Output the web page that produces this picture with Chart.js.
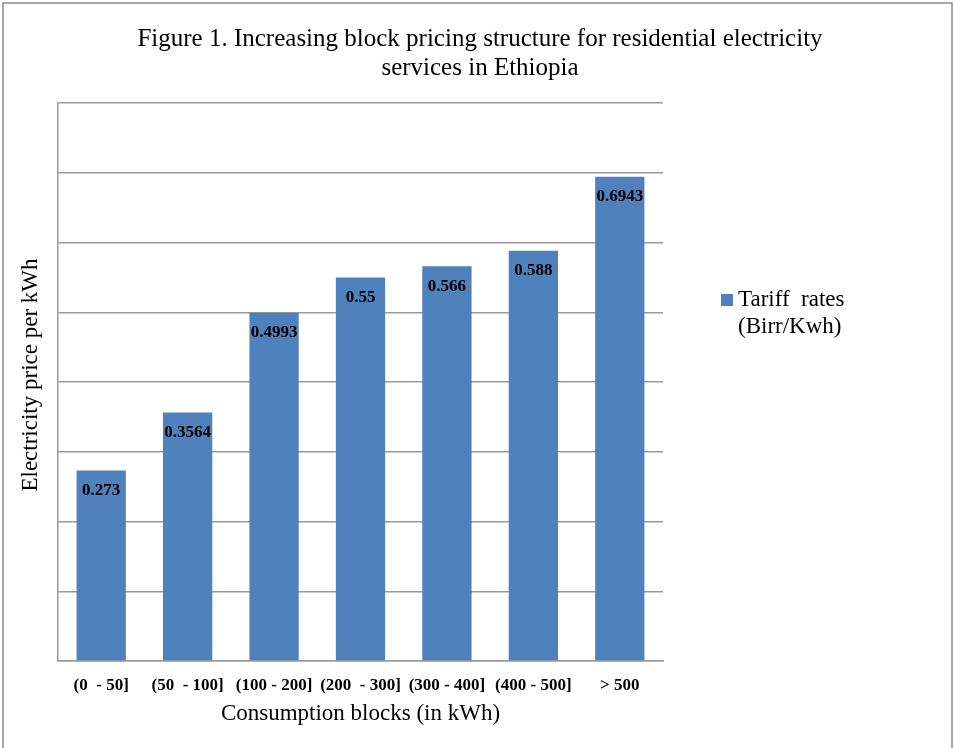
<!DOCTYPE html>
<html>
<head>
<meta charset="utf-8">
<script src="https://cdn.jsdelivr.net/npm/chart.js@4/dist/chart.umd.min.js"></script>
<style>
  html, body { margin: 0; padding: 0; background: #ffffff; }
  #wrap { width: 954px; height: 748px; position: relative; }
</style>
</head>
<body>
<div id="wrap"><canvas id="c" width="954" height="748"></canvas></div>
<script>
// Consumption blocks and tariff per kWh
const blocks = ['(0  - 50]', '(50  - 100]', '(100 - 200]', '(200  - 300]', '(300 - 400]', '(400 - 500]', '> 500'];
const tariffRates = [0.273, 0.3564, 0.4993, 0.55, 0.566, 0.588, 0.6943];
const rateLabels = ['0.273', '0.3564', '0.4993', '0.55', '0.566', '0.588', '0.6943'];
const seriesName = ['Tariff  rates', '(Birr/Kwh)'];
const titleLines = ['Figure 1. Increasing block pricing structure for residential electricity', 'services in Ethiopia'];
const xTitle = 'Consumption blocks (in kWh)';
const yTitle = 'Electricity price per kWh';

const SERIF = '"Liberation Serif", "Times New Roman", serif';
const BAR = '#4F81BD';
const GRID = '#9a9a9a';

const decorations = {
  id: 'decorations',
  beforeDraw(chart) {
    const ctx = chart.ctx;
    ctx.save();
    ctx.fillStyle = '#ffffff';
    ctx.fillRect(0, 0, chart.width, chart.height);
    // frame
    ctx.strokeStyle = '#8c8c8c';
    ctx.lineWidth = 1.5;
    ctx.strokeRect(3, 3, chart.width - 5, chart.height + 10);
    ctx.restore();
  },
  afterDraw(chart) {
    const ctx = chart.ctx;
    const area = chart.chartArea;
    ctx.save();
    ctx.fillStyle = '#000000';
    ctx.textAlign = 'center';
    ctx.textBaseline = 'middle';

    // title
    ctx.font = '25px ' + SERIF;
    ctx.fillText(titleLines[0], 480, 39);
    ctx.fillText(titleLines[1], 480, 68);

    // axis titles
    ctx.font = '23px ' + SERIF;
    ctx.fillText(xTitle, (area.left + area.right) / 2, 714);
    ctx.save();
    ctx.translate(31, (area.top + area.bottom) / 2 - 7);
    ctx.rotate(-Math.PI / 2);
    ctx.fillText(yTitle, 0, 0);
    ctx.restore();

    // value labels inside bar tops
    const meta = chart.getDatasetMeta(0);
    ctx.font = 'bold 17px ' + SERIF;
    meta.data.forEach((bar, i) => {
      ctx.fillText(rateLabels[i], bar.x, bar.y + 20);
    });

    // legend
    ctx.fillStyle = BAR;
    ctx.fillRect(721, 294, 12, 12);
    ctx.fillStyle = '#000000';
    ctx.textAlign = 'left';
    ctx.font = '23px ' + SERIF;
    ctx.fillText(chart.data.datasets[0].label[0], 738, 300);
    ctx.fillText(chart.data.datasets[0].label[1], 738, 327);
    ctx.restore();
  }
};

new Chart(document.getElementById('c'), {
  type: 'bar',
  data: {
    labels: blocks,
    datasets: [{
      label: seriesName,
      data: tariffRates,
      backgroundColor: BAR,
      borderWidth: 0,
      categoryPercentage: 0.57,
      barPercentage: 1.0
    }]
  },
  options: {
    responsive: false,
    animation: false,
    devicePixelRatio: 1,
    layout: { padding: { left: 0, top: 103, right: 291, bottom: 0 } },
    plugins: {
      legend: { display: false },
      title: { display: false },
      tooltip: { enabled: false }
    },
    scales: {
      x: {
        grid: { display: false, drawTicks: false },
        border: { display: true, color: GRID, width: 1.5 },
        ticks: {
          padding: 14,
          color: '#000000',
          maxRotation: 0,
          autoSkip: false,
          font: { family: SERIF, size: 17, weight: 'bold' }
        },
        afterFit(scale) { scale.height = 87; }
      },
      y: {
        min: 0,
        max: 0.8,
        grid: { color: GRID, lineWidth: 1.5, drawTicks: false },
        border: { display: true, color: GRID, width: 1.5 },
        ticks: { display: false, stepSize: 0.1 },
        afterFit(scale) { scale.width = 58; }
      }
    }
  },
  plugins: [decorations]
});
</script>
</body>
</html>
